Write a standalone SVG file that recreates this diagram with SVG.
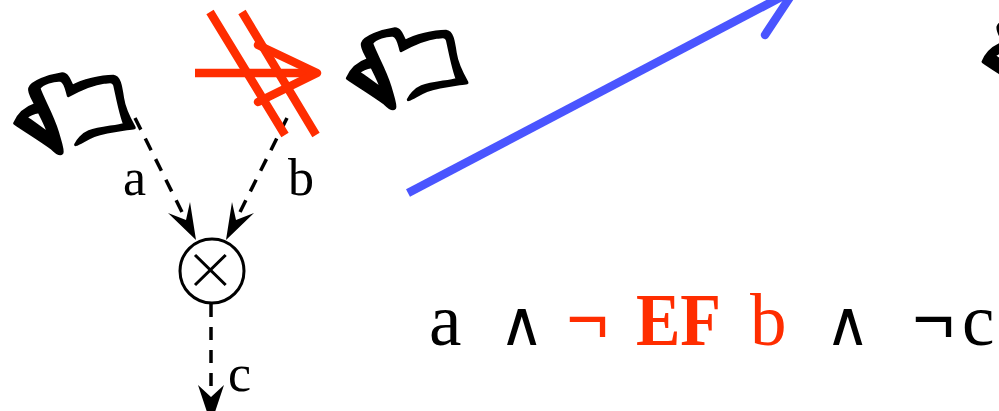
<svg xmlns="http://www.w3.org/2000/svg" width="999" height="411" viewBox="0 0 999 411">
<style>
text{font-family:"Liberation Serif","Times New Roman",serif;fill:#000}
.lbl{font-size:52px}
.f{font-size:73px}
.ef{font-size:73px;font-weight:bold}
.op{font-size:62px}
.neg{font-size:76px;font-weight:bold}
.red{fill:#ff2d00}
.dash{fill:none;stroke:#000;stroke-width:3.500;stroke-dasharray:13 10}
.rl{fill:none;stroke:#ff2d00;stroke-width:8.500}
.bl{fill:none;stroke:#4a55ff;stroke-width:8.500;stroke-linejoin:round}
</style>
<defs>
<path id="flag" fill="#000" stroke="#000" stroke-width="9" stroke-linejoin="round" fill-rule="evenodd" transform="scale(.3333)" d="M22 175C32 150 50 130 85 118C75 98 64 82 67 70C72 52 125 32 165 26C178 26 184 40 195 64C225 47 280 34 318 34C336 36 340 60 346 100C351 135 368 165 381 188C360 192 300 198 260 212C235 222 218 236 205 239C210 228 225 208 245 200C280 188 325 186 352 178C340 150 330 95 322 60C318 48 310 50 290 52C255 56 215 75 183 92C178 75 175 50 160 46C140 44 105 55 95 70C105 100 135 150 150 200C160 235 168 255 164 264C158 270 150 266 135 251C100 225 50 195 22 175ZM55 158C70 166 100 190 125 207C118 185 105 160 95 140C80 142 65 148 55 158Z"/>
</defs>
<g id="connectors">
<path class="dash" d="M135 118L188 224"/>
<path class="dash" d="M287 118L234 224"/>
<path class="dash" d="M211 304V396"/>
<path d="M196 240L168 213L186 220L190 202Z"/>
<path d="M226 240L254 213L236 220L232 202Z"/>
<path d="M211 424L198 385L211 397L224 385Z"/>
<path class="bl" d="M408 193L785 -5"/>
<path class="bl" stroke-linecap="round" d="M765 35L800 -18"/>
</g>
<g id="node-flag-left"><use href="#flag" transform="translate(7.300 65)"/></g>
<g id="node-flag-mid"><use href="#flag" transform="translate(340 20)"/></g>
<g id="node-flag-right"><use href="#flag" transform="translate(975.700 3.400)"/></g>
<g id="node-forbidden">
<path class="rl" d="M195 73H316"/>
<path class="rl" stroke-linecap="round" stroke-linejoin="round" d="M258 45L317 73L258 102"/>
<path class="rl" d="M210 12L285 135M242 12L316 135"/>
</g>
<g id="node-xor">
<circle cx="212" cy="271" r="32" fill="#fff" stroke="#000" stroke-width="3"/>
<path d="M195 255L225.700 285M225.700 255L195 285" stroke="#000" stroke-width="3" fill="none"/>
</g>
<g id="labels">
<text class="lbl" x="123" y="195">a</text>
<text class="lbl" x="288" y="195">b</text>
<text class="lbl" x="228" y="391">c</text>
<text class="f" x="429" y="345">a</text>
<text class="op" x="499" y="345">∧</text>
<text class="neg red" x="566" y="345">¬</text>
<text class="ef red" x="636" y="345" textLength="85" lengthAdjust="spacingAndGlyphs">EF</text>
<text class="f red" x="750" y="345">b</text>
<text class="op" x="825" y="345">∧</text>
<text class="neg" x="912" y="345">¬</text>
<text class="f" x="962" y="345">c</text>
</g>
</svg>
